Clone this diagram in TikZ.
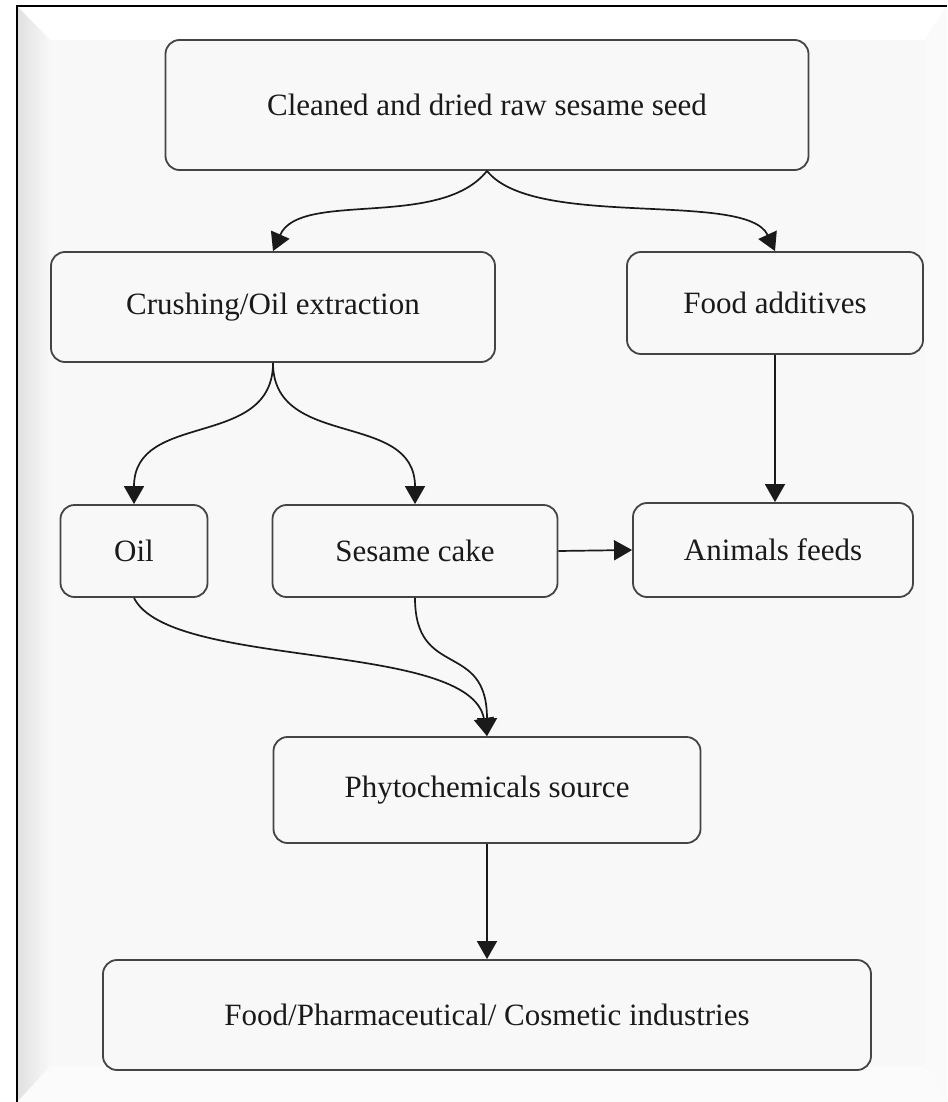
\documentclass[tikz,border=0pt]{standalone}
\usepackage{fontspec}
\setmainfont{Liberation Serif}
\usetikzlibrary{arrows.meta,shapes.misc}
\definecolor{panel}{HTML}{F8F8F8}
\definecolor{edge}{HTML}{444444}
\definecolor{ink}{HTML}{1A1A1A}
\tikzset{
  box/.style={draw=edge, line width=1.8pt, rounded corners=14pt, fill=panel,
    font=\fontsize{31}{36}\selectfont, text=ink, inner sep=0pt},
  flow/.style={draw=ink, line width=1.7pt, -{Triangle[length=18pt,width=20pt]}},
}
\begin{document}
\begin{tikzpicture}[x=1pt,y=-1pt]
\useasboundingbox (0,0) rectangle (947,1102);
\fill[white] (0,0) rectangle (947,1102);
% bevelled frame
\fill[panel] (17,6) rectangle (947,1102);
\fill[white] (17,6) -- (947,6) -- (925,40) -- (50,40) -- cycle;
\fill[white!40!panel] (17,1102) -- (50,1066) -- (925,1066) -- (947,1102) -- cycle;
\fill[white!30!panel] (947,6) -- (925,40) -- (925,1066) -- (947,1102) -- cycle;
\shade[left color=black!12, right color=panel] (17,6) -- (50,40) -- (50,1066) -- (17,1102) -- cycle;
\draw[black, line width=2.4pt] (17,1102) -- (17,6) -- (947,6);
% nodes
\node[box, minimum width=643, minimum height=130] (seed) at (487,105) {Cleaned and dried raw sesame seed};
\node[box, minimum width=444, minimum height=110] (crush) at (273,307) {Crushing/Oil extraction};
\node[box, minimum width=296, minimum height=102] (addit) at (775,303) {Food additives};
\node[box, minimum width=147, minimum height=92] (oil) at (134,551) {Oil};
\node[box, minimum width=285, minimum height=92] (cake) at (415,551) {Sesame cake};
\node[box, minimum width=280, minimum height=94] (feeds) at (773,550) {Animals feeds};
\node[box, minimum width=427, minimum height=106] (phyto) at (487,790) {Phytochemicals source};
\node[box, minimum width=768, minimum height=110] (ind) at (487,1015) {Food/Pharmaceutical/ Cosmetic industries};
% connectors
\draw[flow] (seed.south) .. controls (440,230) and (300,190) .. (crush.north);
\draw[flow] (seed.south) .. controls (534,230) and (747,190) .. (addit.north);
\draw[flow] (addit.south) -- (addit.south |- feeds.north);
\draw[flow] (crush.south) .. controls (273,450) and (134,410) .. (oil.north);
\draw[flow] (crush.south) .. controls (273,450) and (415,410) .. (cake.north);
\draw[flow] (cake.east) -- (feeds.west);
\draw[flow] (oil.south) .. controls (170,670) and (470,640) .. (phyto.north);
\draw[flow] (cake.south) .. controls (415,680) and (487,640) .. (phyto.north);
\draw[flow] (phyto.south) -- (ind.north);
\end{tikzpicture}
\end{document}
